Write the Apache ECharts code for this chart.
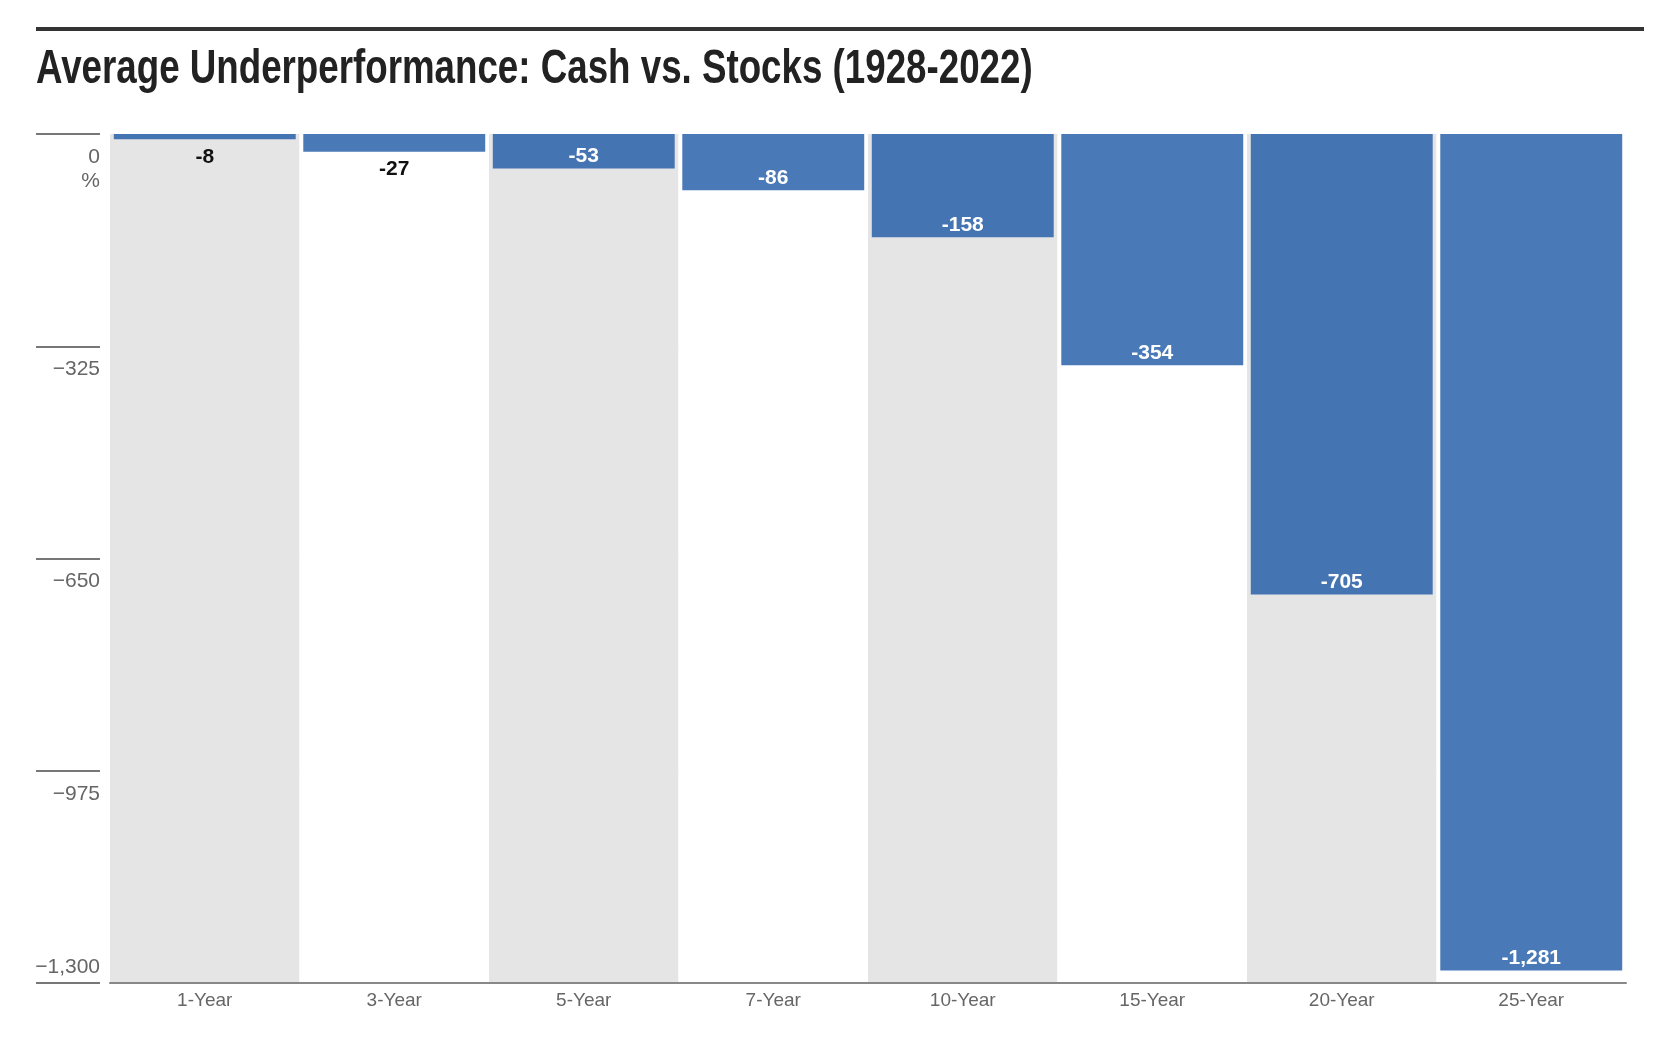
<!DOCTYPE html>
<html>
<head>
<meta charset="utf-8">
<script src="https://cdn.jsdelivr.net/npm/echarts@6/dist/echarts.min.js"></script>
<style>
html,body{margin:0;padding:0;background:#fff;}
#chart{width:1664px;height:1058px;}
</style>
</head>
<body>
<div id="chart"></div>
<script>
const titleText = 'Average Underperformance: Cash vs. Stocks (1928-2022)';
const categories = ['1-Year', '3-Year', '5-Year', '7-Year', '10-Year', '15-Year', '20-Year', '25-Year'];
const values = [-8, -27, -53, -86, -158, -354, -705, -1281];
const yMin = -1300;
const yMax = 0;
const yStep = 325;

const FONT = '"Liberation Sans", Arial, sans-serif';
const chart = echarts.init(document.getElementById('chart'), null, {renderer: 'canvas'});

function fmtTick(v) {
  if (v === 0) return '0\n%';
  return '\u2212' + Math.abs(v).toLocaleString('en-US');
}

const barData = values.map(v => {
  const small = Math.abs(v) < 40;
  return {
    value: v,
    label: {
      show: true,
      position: small ? 'bottom' : 'insideBottom',
      distance: small ? 7 : 1,
      color: small ? '#111' : '#fff',
      formatter: p => Number(p.value).toLocaleString('en-US'),
      fontFamily: FONT,
      fontWeight: 'bold',
      fontSize: 21,
      lineHeight: 22
    }
  };
});

chart.setOption({
  animation: false,
  backgroundColor: '#fff',
  graphic: [
    {type: 'rect', shape: {x: 36, y: 27, width: 1608, height: 4}, style: {fill: '#333'}},
    {type: 'text', x: 36, y: 70, scaleX: 0.765,
     style: {text: titleText, font: 'bold 48px ' + FONT, fill: '#222', verticalAlign: 'middle', align: 'left'}}
  ],
  grid: {left: 110, right: 38, top: 134, bottom: 75, containLabel: false},
  xAxis: {
    type: 'category',
    data: categories,
    boundaryGap: true,
    axisLine: {show: true, onZero: false, lineStyle: {color: '#888', width: 2}},
    axisTick: {show: false},
    axisLabel: {color: '#666', fontFamily: FONT, fontSize: 19, lineHeight: 22, margin: 7},
    splitLine: {show: false},
    splitArea: {show: true, areaStyle: {color: ['#e5e5e5', '#ffffff']}}
  },
  yAxis: [
    {
      type: 'value', min: yMin, max: yMax, interval: yStep,
      position: 'left', offset: 10,
      axisLine: {show: false},
      axisTick: {show: true, inside: false, length: 64, lineStyle: {color: '#777', width: 2}},
      axisLabel: {
        margin: 0, verticalAlign: 'top', align: 'right', padding: [11, 0, 0, 0],
        color: '#666', fontFamily: FONT, fontSize: 21, lineHeight: 24,
        formatter: v => (v === yMin ? '' : fmtTick(v))
      },
      splitLine: {show: true, lineStyle: {color: '#dadada', width: 1}}
    },
    {
      type: 'value', min: yMin, max: yMax, interval: yStep,
      position: 'left', offset: 10,
      axisLine: {show: false}, axisTick: {show: false}, splitLine: {show: false},
      axisLabel: {
        margin: 0, verticalAlign: 'bottom', align: 'right', padding: [0, 0, 4, 0],
        color: '#666', fontFamily: FONT, fontSize: 21, lineHeight: 24,
        formatter: v => (v === yMin ? fmtTick(v) : '')
      }
    }
  ],
  series: [{
    type: 'bar',
    yAxisIndex: 0,
    data: barData,
    barCategoryGap: '4%',
    itemStyle: {color: 'rgba(29,88,165,0.8)'}
  }]
});
</script>
</body>
</html>
